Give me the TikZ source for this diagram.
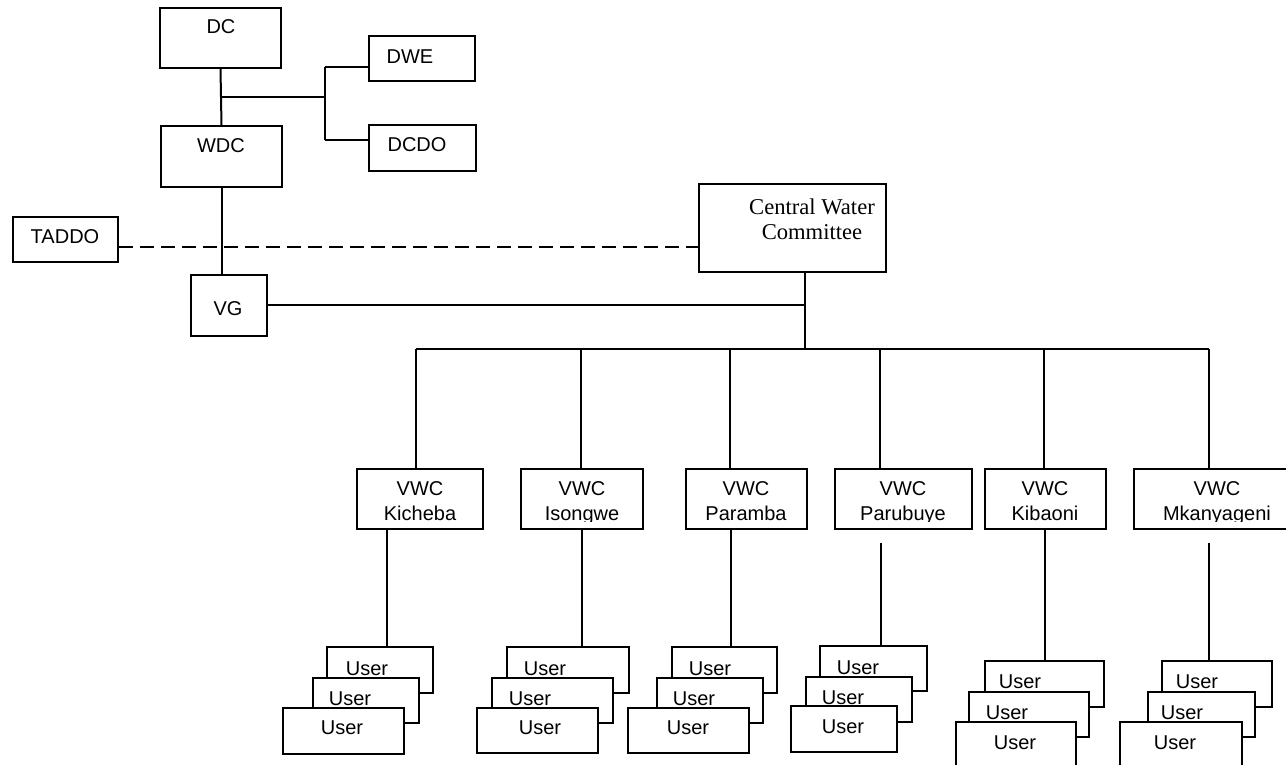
\documentclass[tikz,border=0pt]{standalone}
\usepackage{fontspec}
\setmainfont{Liberation Serif}
\setsansfont{Liberation Sans}
\usetikzlibrary{fit}

\tikzset{
  obox/.style={draw=black, line width=1pt, inner sep=0pt},
  ubox/.style={obox, fill=white},
  lbl/.style={inner sep=0pt, font=\sffamily\fontsize{10}{12}\selectfont,
              text height=7.2pt, text depth=0pt},
  slbl/.style={inner sep=0pt, font=\rmfamily\fontsize{11.3}{13.6}\selectfont,
              text height=7.6pt, text depth=0pt},
  link/.style={draw=black, line width=1pt},
  dlink/.style={link, dash pattern=on 7pt off 3.5pt},
}

% \orgbox{name}{x1}{y1}{x2}{y2}
\newcommand\orgbox[5]{\node[obox, fit={(#2,#3) (#4,#5)}] (#1) {};}
% \userbox{name}{x1}{y1}{x2}{y2}{text x}{text y}
\newcommand\userbox[7]{%
  \node[ubox, fit={(#2,#3) (#4,#5)}] (#1) {};
  \node[lbl] (#1-t) at (#6,#7) {User};}

\begin{document}
\begin{tikzpicture}[x=0.5pt, y=-0.5pt]
\useasboundingbox (0,0) rectangle (1286,765);
\clip (0,0) rectangle (1286,765);

% district level
\orgbox{dc}{160}{8}{281}{68}
\node[lbl] (dc-t) at (221,26) {DC};
\orgbox{dwe}{369}{36}{475}{81}
\node[lbl] (dwe-t) at (410,56) {DWE};
\orgbox{dcdo}{369}{125}{476}{171}
\node[lbl] (dcdo-t) at (417,144) {DCDO};
\orgbox{wdc}{161}{126}{282}{187}
\node[lbl] (wdc-t) at (221,145) {WDC};
\orgbox{taddo}{13}{217}{118}{262}
\node[lbl] (taddo-t) at (65,236) {TADDO};
\orgbox{vg}{191}{275}{267}{336}
\node[lbl] (vg-t) at (228,308) {VG};
\orgbox{cwc}{699}{184}{886}{272}
\node[slbl] (cwc-t1) at (812,207) {Central Water};
\node[slbl] (cwc-t2) at (812,232) {Committee};

% branch points
\coordinate (j1) at (221,97);
\coordinate (j2) at (325,97);
\coordinate (j3) at (325,67);
\coordinate (j4) at (325,140);
\coordinate (j5) at (805,305);
\coordinate (j6) at (805,349);

\draw[link] (dc.south) -- (wdc.north);
\draw[link] (j1) -- (j2);
\draw[link] (j3) -- (j4);
\draw[link] (j3) -- (j3 -| dwe.west);
\draw[link] (j4) -- (j4 -| dcdo.west);
\draw[link] (wdc.south) -- (vg.north -| wdc.south);
\draw[dlink] (taddo.east |- 0,247) -- (cwc.west |- 0,247);
\draw[link] (vg.east |- j5) -- (j5);
\draw[link] (cwc.south -| j5) -- (j6);

% village water committees
\orgbox{kic}{357}{469}{483}{529}
\orgbox{iso}{521}{469}{643}{529}
\orgbox{par}{686}{469}{807}{529}
\orgbox{pbu}{835}{469}{972}{529}
\orgbox{kib}{985}{469}{1106}{529}
\orgbox{mka}{1134}{469}{1295}{529}
\foreach \n/\x in {kic/420, iso/582, par/746, pbu/903, kib/1045, mka/1217}
  \node[lbl] (\n-t1) at (\x,488) {VWC};
\begin{scope}
  \clip (340,460) rectangle (1290,521.5);
  \node[lbl] (kic-t2) at (420,513) {Kicheba};
  \node[lbl] (iso-t2) at (582,513) {Isongwe};
  \node[lbl] (par-t2) at (746,513) {Paramba};
  \node[lbl] (pbu-t2) at (903,513) {Parubuye};
  \node[lbl] (kib-t2) at (1045,513) {Kibaoni};
  \node[lbl] (mka-t2) at (1217,513) {Mkanyageni};
\end{scope}

% bus from the central committee
\coordinate (b0) at (416,349);
\coordinate (b5) at (1209,349);
\draw[link] (b0) -- (b5);
\draw[link] (b0) -- (kic.north -| b0);
\draw[link] (581,349) -- (iso.north -| 581,0);
\draw[link] (730,349) -- (par.north -| 730,0);
\draw[link] (880,349) -- (pbu.north -| 880,0);
\draw[link] (1044,349) -- (kib.north -| 1044,0);
\draw[link] (b5) -- (mka.north -| b5);

% users of each committee
\userbox{u1a}{327}{647}{433}{693}{367}{668}
\userbox{u1b}{313}{678}{419}{723}{350}{698}
\userbox{u1c}{283}{708}{404}{754}{342}{727}

\userbox{u2a}{507}{647}{629}{693}{545}{668}
\userbox{u2b}{492}{678}{613}{723}{530}{698}
\userbox{u2c}{477}{708}{598}{753}{540}{727}

\userbox{u3a}{672}{647}{777}{693}{710}{668}
\userbox{u3b}{657}{678}{763}{723}{694}{698}
\userbox{u3c}{628}{708}{749}{753}{688}{727}

\userbox{u4a}{820}{646}{927}{691}{858}{667}
\userbox{u4b}{806}{677}{912}{722}{843}{697}
\userbox{u4c}{791}{706}{897}{752}{843}{726}

\userbox{u5a}{985}{661}{1104}{707}{1020}{681}
\userbox{u5b}{969}{692}{1089}{737}{1007}{712}
\userbox{u5c}{956}{722}{1076}{790}{1015}{742}

\userbox{u6a}{1162}{661}{1272}{707}{1197}{681}
\userbox{u6b}{1148}{692}{1255}{737}{1182}{712}
\userbox{u6c}{1120}{722}{1242}{790}{1175}{742}

% committee to user links
\coordinate (pbu-x) at (881,543);
\coordinate (mka-x) at (1209,543);
\draw[link] (kic.south -| 387,0) -- (u1a.north -| 387,0);
\draw[link] (iso.south -| 582,0) -- (u2a.north -| 582,0);
\draw[link] (par.south -| 731,0) -- (u3a.north -| 731,0);
\draw[link] (pbu-x) -- (u4a.north -| pbu-x);
\draw[link] (kib.south -| 1045,0) -- (u5a.north -| 1045,0);
\draw[link] (mka-x) -- (u6a.north -| mka-x);
\end{tikzpicture}
\end{document}
